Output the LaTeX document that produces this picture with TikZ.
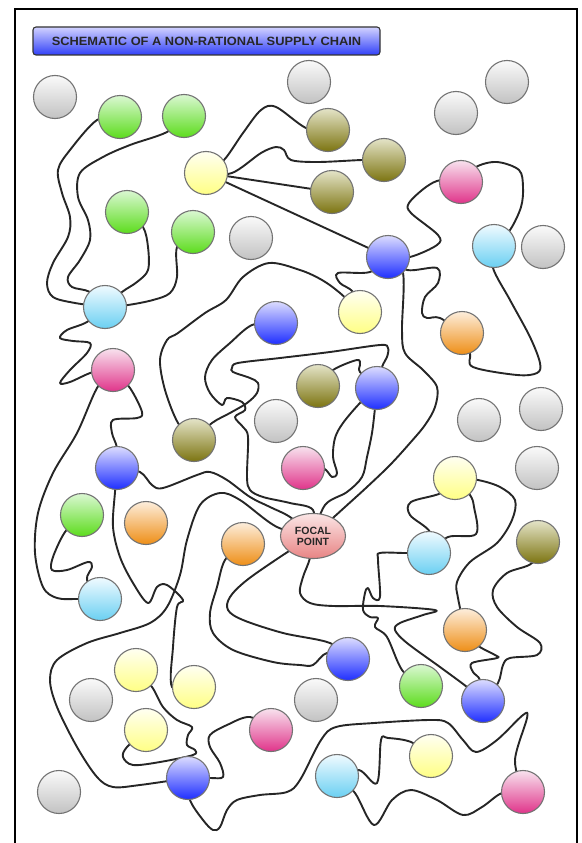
\documentclass[tikz,border=0pt]{standalone}
\usepackage{fontspec}
\setmainfont{Liberation Sans}
\usetikzlibrary{shapes.geometric}
\pgfdeclarelayer{bg}
\pgfsetlayers{bg,main}
\definecolor{gyT}{HTML}{FAFAFA}\definecolor{gyB}{HTML}{C2C2C2}
\definecolor{gnT}{HTML}{DAF8D2}\definecolor{gnB}{HTML}{5CDC1C}
\definecolor{blT}{HTML}{DCDCFF}\definecolor{blB}{HTML}{1E2EFF}
\definecolor{yeT}{HTML}{FFFFF2}\definecolor{yeB}{HTML}{FFFF84}
\definecolor{olT}{HTML}{E4E4C8}\definecolor{olB}{HTML}{7C7410}
\definecolor{mgT}{HTML}{F8E2EE}\definecolor{mgB}{HTML}{E0348A}
\definecolor{lbT}{HTML}{F0FAFF}\definecolor{lbB}{HTML}{6AD0F2}
\definecolor{orT}{HTML}{FDEEDC}\definecolor{orB}{HTML}{EE8E16}
\definecolor{fpT}{HTML}{FBE6E6}\definecolor{fpB}{HTML}{E88484}
\definecolor{ttT}{HTML}{D2D2FF}\definecolor{ttB}{HTML}{3040F8}
\tikzset{
  ball/.style={circle, minimum size=43pt, inner sep=0pt, draw=black!55, line width=1.1pt},
  grayb/.style={ball, top color=gyT, bottom color=gyB},
  greenb/.style={ball, top color=gnT, bottom color=gnB},
  blueb/.style={ball, top color=blT, bottom color=blB},
  yellowb/.style={ball, top color=yeT, bottom color=yeB},
  oliveb/.style={ball, top color=olT, bottom color=olB},
  magb/.style={ball, top color=mgT, bottom color=mgB},
  ltblueb/.style={ball, top color=lbT, bottom color=lbB},
  orangeb/.style={ball, top color=orT, bottom color=orB},
  wire/.style={line width=1.9pt, black!85, line cap=round, line join=round},
  wig/.style={smooth, tension=0.55}
}
\begin{document}
\begin{tikzpicture}[x=1pt,y=-1pt]
\useasboundingbox (0,0) rectangle (581,843);
\clip (0,0) rectangle (581,843);
% title
\node[rectangle, rounded corners=3pt, minimum width=347pt, minimum height=28pt, inner sep=0pt,
  top color=ttT, bottom color=ttB, draw=black!80, line width=1.1pt] (title) at (206.5,41)
  {\scalebox{1.07}[1]{\fontsize{12}{14}\selectfont\bfseries\color{black!85}SCHEMATIC OF A NON-RATIONAL SUPPLY CHAIN}};
% gray
\node[grayb] (gr1) at (55,97) {};
\node[grayb] (gr2) at (309,82) {};
\node[grayb] (gr3) at (507,82) {};
\node[grayb] (gr4) at (456,113) {};
\node[grayb] (gr5) at (251,238) {};
\node[grayb] (gr6) at (543,247) {};
\node[grayb] (gr7) at (276,421) {};
\node[grayb] (gr8) at (479,420) {};
\node[grayb] (gr9) at (541,409) {};
\node[grayb] (gr10) at (537,468) {};
\node[grayb] (gr11) at (91,700) {};
\node[grayb] (gr12) at (316,700) {};
\node[grayb] (gr13) at (59,792) {};
% green
\node[greenb] (gn1) at (120,117) {};
\node[greenb] (gn2) at (184,116) {};
\node[greenb] (gn3) at (127,212) {};
\node[greenb] (gn4) at (193,232) {};
\node[greenb] (gn5) at (82,515) {};
\node[greenb] (gn6) at (421,686) {};
% yellow
\node[yellowb] (ye1) at (206,173) {};
\node[yellowb] (ye2) at (360,312) {};
\node[yellowb] (ye3) at (455,478) {};
\node[yellowb] (ye4) at (136,670) {};
\node[yellowb] (ye5) at (194,687) {};
\node[yellowb] (ye6) at (146,730) {};
\node[yellowb] (ye7) at (431,756) {};
% olive
\node[oliveb] (ol1) at (328,130) {};
\node[oliveb] (ol2) at (384,160) {};
\node[oliveb] (ol3) at (332,192) {};
\node[oliveb] (ol4) at (318,386) {};
\node[oliveb] (ol5) at (194,440) {};
\node[oliveb] (ol6) at (538,542) {};
% magenta
\node[magb] (mg1) at (461,182) {};
\node[magb] (mg2) at (113,370) {};
\node[magb] (mg3) at (303,468) {};
\node[magb] (mg4) at (271,730) {};
\node[magb] (mg5) at (523,792) {};
% blue
\node[blueb] (bl1) at (388,257) {};
\node[blueb] (bl2) at (276,323) {};
\node[blueb] (bl3) at (377,388) {};
\node[blueb] (bl4) at (117,468) {};
\node[blueb] (bl5) at (348,659) {};
\node[blueb] (bl6) at (483,701) {};
\node[blueb] (bl7) at (188,778) {};
% light blue
\node[ltblueb] (lb1) at (494,246) {};
\node[ltblueb] (lb2) at (105,307) {};
\node[ltblueb] (lb3) at (100,599) {};
\node[ltblueb] (lb4) at (429,553) {};
\node[ltblueb] (lb5) at (337,776) {};
% orange
\node[orangeb] (or1) at (462,333) {};
\node[orangeb] (or2) at (146,523) {};
\node[orangeb] (or3) at (243,544) {};
\node[orangeb] (or4) at (465,630) {};
% focal point
\node[ellipse, minimum width=65pt, minimum height=45pt, inner sep=0pt, draw=black!55, line width=1.1pt,
  top color=fpT, bottom color=fpB, align=center, font=\fontsize{10.5}{12}\selectfont\bfseries] (fp) at (313,536)
  {\color{black!85}FOCAL\\[-1pt]\color{black!85}POINT};
\begin{pgfonlayer}{bg}
\draw[line width=2pt] (15,9) rectangle (577,870);
\draw[wire] plot[wig] coordinates {(gn1.center) (97,120) (70,150) (58,170) (62,193) (70,217) (68,237) (53,263) (47,283) (53,297) (75,303) (lb2.center)};
\draw[wire] plot[wig] coordinates {(gn2.center) (167,132) (130,145) (103,157) (80,173) (78,197) (88,220) (90,240) (80,260) (68,277) (72,287) (90,292) (lb2.center)};
\draw[wire] plot[wig] coordinates {(gn3.center) (143,227) (148,247) (148,270) (137,282) (122,292) (lb2.center)};
\draw[wire] plot[wig] coordinates {(gn4.center) (177,247) (177,277) (170,293) (153,300) (128,305) (lb2.center)};
\draw[wire] plot[wig] coordinates {(lb2.center) (87,322) (67,330) (60,338) (73,341) (90,343) (87,353) (70,370) (60,383) (70,382) (93,372) (mg2.center)};
\draw[wire] plot[wig] coordinates {(mg2.center) (97,388) (77,433) (53,473) (38,513) (35,553) (43,587) (57,598) (78,599) (lb3.center)};
\draw[wire] plot[wig] coordinates {(mg2.center) (130,388) (142,412) (137,418) (113,420) (112,433) (117,448) (bl4.center)};
\draw[wire] plot[wig] coordinates {(bl4.center) (140,472) (152,485) (163,488) (197,475) (210,472) (227,480) (250,497) (270,507) (290,517) (fp.center)};
\draw[wire] plot[wig] coordinates {(bl4.center) (115,492) (113,527) (120,557) (133,583) (148,603) (157,587) (167,585) (183,600) (177,607) (173,647) (172,687) (ye5.center)};
\draw[wire] plot[wig] coordinates {(gn5.center) (65,532) (53,557) (52,570) (67,570) (88,562) (92,567) (87,580) (lb3.center)};
\draw[wire] plot[wig] coordinates {(fp.center) (277,527) (240,500) (220,493) (200,505) (187,540) (180,575) (167,607) (150,623) (120,633) (87,643) (57,660) (50,680) (57,707) (77,747) (97,777) (113,787) (140,785) (bl7.center)};
\draw[wire] plot[wig] coordinates {(ye4.center) (152,687) (163,707) (177,720) (192,727) (188,735) (187,745) (195,750) (193,755) (160,762) (133,765) (123,757) (127,747) (ye6.center)};
\draw[wire] plot[wig] coordinates {(bl7.center) (210,778) (223,777) (220,763) (210,747) (210,735) (227,725) (250,717) (mg4.center)};
\draw[wire] plot[wig] coordinates {(bl7.center) (190,800) (203,820) (213,830) (220,827) (227,810) (237,800) (260,795) (287,792) (300,780) (321,740) (336,727) (374,723) (430,720) (448,723) (463,740) (476,752) (497,740) (523,715) (527,718) (515,760) (mg5.center)};
\draw[wire] plot[wig] coordinates {(lb5.center) (359,770) (377,783) (381,740) (388,738) (411,742) (ye7.center)};
\draw[wire] plot[wig] coordinates {(lb5.center) (355,793) (374,825) (392,800) (411,790) (437,800) (463,815) (482,807) (502,793) (mg5.center)};
\draw[wire] plot[wig] coordinates {(or3.center) (225,560) (217,587) (210,613) (213,633) (233,650) (273,662) (300,665) (313,665) (327,653) (bl5.center)};
\draw[wire] plot[wig] coordinates {(fp.center) (283,555) (247,580) (230,597) (228,610) (243,620) (283,633) (330,643) (bl5.center)};
\draw[wire] plot[wig] coordinates {(fp.center) (310,558) (303,577) (300,593) (310,603) (333,606) (380,606) (435,610) (423,615) (400,623) (395,630) (407,643) (440,667) (467,687) (bl6.center)};
\draw[wire] plot[wig] coordinates {(lb4.center) (405,553) (380,553) (378,560) (380,597) (373,598) (368,588) (365,593) (363,610) (370,617) (378,618) (375,627) (387,637) (402,670) (gn6.center)};
\draw[wire] plot[wig] coordinates {(ye3.center) (441,493) (411,502) (410,515) (430,532) (lb4.center)};
\draw[wire] plot[wig] coordinates {(lb4.center) (448,537) (476,534) (474,507) (470,495) (ye3.center)};
\draw[wire] plot[wig] coordinates {(ye3.center) (478,480) (500,487) (515,500) (512,520) (497,543) (470,562) (457,582) (458,598) (or4.center)};
\draw[wire] plot[wig] coordinates {(ol6.center) (532,563) (507,573) (493,590) (497,607) (517,627) (540,643) (537,655) (510,658) (503,665) (498,683) (bl6.center)};
\draw[wire] plot[wig] coordinates {(or4.center) (477,645) (495,655) (497,658) (472,663) (473,672) (480,680) (bl6.center)};
\draw[wire] plot[wig] coordinates {(ye1.center) (224,160) (243,133) (261,110) (276,107) (306,128) (ol1.center)};
\draw[wire] plot[wig] coordinates {(ye1.center) (232,173) (261,153) (276,147) (284,150) (291,160) (318,162) (362,160) (ol2.center)};
\draw[wire] (ye1.center) -- (ol3.center);
\draw[wire] (ye1.center) -- (bl1.center);
\draw[wire] plot[wig] coordinates {(bl1.center) (410,257) (437,245) (438,235) (411,213) (409,203) (426,187) (441,180) (mg1.center)};
\draw[wire] plot[wig] coordinates {(mg1.center) (476,167) (497,162) (519,170) (523,187) (521,207) (510,230) (lb1.center)};
\draw[wire] plot[wig] coordinates {(lb1.center) (493,268) (510,300) (530,337) (540,363) (537,373) (517,375) (473,367) (470,353) (or1.center)};
\draw[wire] plot[wig] coordinates {(bl1.center) (370,272) (338,273) (340,283) (353,292) (ye2.center)};
\draw[wire] plot[wig] coordinates {(bl1.center) (407,270) (437,268) (438,283) (425,297) (422,313) (427,318) (440,318) (or1.center)};
\draw[wire] plot[wig] coordinates {(bl1.center) (403,273) (402,330) (405,353) (423,370) (437,387) (435,407) (425,425) (410,443) (390,465) (367,487) (345,507) (fp.center)};
\draw[wire] plot[wig] coordinates {(ol5.center) (178,423) (165,390) (160,360) (167,340) (178,333) (205,313) (226,300) (243,277) (269,263) (300,270) (322,280) (340,293) (ye2.center)};
\draw[wire] plot[wig] coordinates {(bl2.center) (252,325) (230,343) (212,360) (205,377) (210,393) (222,405) (227,398) (242,402) (245,410) (235,417) (243,427) (248,437) (247,477) (250,490) (263,497) (290,503) (313,510) (fp.center)};
\draw[wire] plot[wig] coordinates {(ol5.center) (212,423) (230,413) (247,403) (257,393) (258,383) (250,378) (233,372) (232,368) (238,363) (280,358) (330,352) (380,345) (388,348) (387,357) (382,367) (bl3.center)};
\draw[wire] plot[wig] coordinates {(ol4.center) (333,370) (357,360) (360,365) (360,372) (bl3.center)};
\draw[wire] plot[wig] coordinates {(bl3.center) (360,403) (343,423) (335,438) (333,457) (337,473) (332,477) (323,468) (mg3.center)};
\draw[wire] plot[wig] coordinates {(bl3.center) (375,408) (372,433) (367,457) (362,477) (347,492) (325,505) (fp.center)};
\end{pgfonlayer}
\end{tikzpicture}
\end{document}
